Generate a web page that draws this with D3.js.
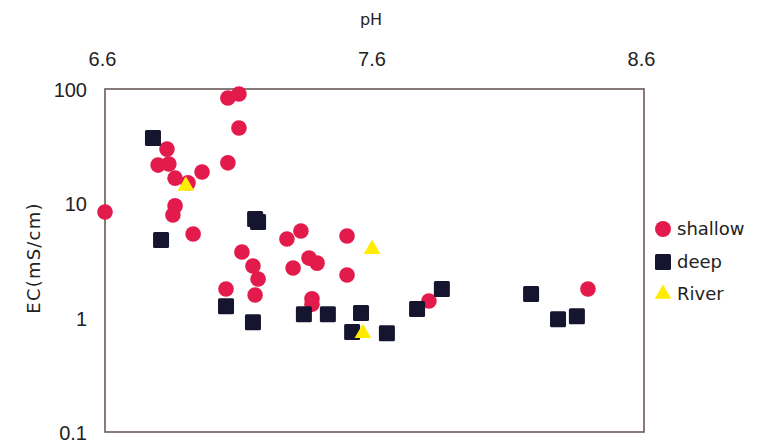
<!DOCTYPE html>
<html>
<head>
<meta charset="utf-8">
<script src="https://cdn.jsdelivr.net/npm/d3@7"></script>
<style>
  html, body { margin: 0; padding: 0; background: #fff; }
  svg { display: block; }
</style>
</head>
<body>
<svg id="chart" width="761" height="448"></svg>
<script>
// ---- data ----
const shallowPH = [6.60, 7.056, 7.097, 7.097, 6.83, 6.797, 6.837, 7.056, 6.96, 6.86, 6.908, 6.86, 6.852, 6.927, 7.108, 7.149, 7.168, 7.157, 7.049, 7.275, 7.327, 7.498, 7.298, 7.357, 7.387, 7.498, 7.368, 7.368, 7.802, 8.392];
const shallowEC = [8.4, 83.4, 90.4, 45.6, 29.8, 21.6, 22.1, 22.6, 18.8, 16.6, 15.1, 9.5, 7.9, 5.4, 3.75, 2.83, 2.18, 1.58, 1.78, 4.87, 5.72, 5.18, 2.72, 3.32, 3.0, 2.36, 1.46, 1.31, 1.40, 1.78];
const deepPH = [6.778, 7.157, 7.168, 6.808, 7.049, 7.149, 7.338, 7.427, 7.55, 7.517, 7.646, 7.758, 7.85, 8.181, 8.281, 8.351];
const deepEC = [37.3, 7.3, 6.86, 4.77, 1.26, 0.91, 1.07, 1.07, 1.10, 0.75, 0.73, 1.19, 1.78, 1.61, 0.97, 1.03];
const riverPH = [6.90, 7.591, 7.557];
const riverEC = [14.2, 3.98, 0.73];
const xTicks = [6.6, 7.6, 8.6];
const yTicks = [100, 10, 1, 0.1];
const yTickLabels = ["100", "10", "1", "0.1"];
const seriesNames = ["shallow", "deep", "River"];

// ---- layout ----
const svg = d3.select("#chart");
const L = 105, R = 644, T = 89, B = 432;
const x = d3.scaleLinear().domain([6.6, 8.6]).range([L, R]);
const y = d3.scaleLog().domain([0.1, 100]).range([B, T]);

const colRed = "#e31b4c", colDeep = "#161530", colRiver = "#ffec00";
const numFont = "'Liberation Sans', Arial, sans-serif";
const txtFont = "'DejaVu Sans', sans-serif";
const txtCol = "#222";

// plot border
svg.append("rect")
  .attr("x", L).attr("y", T).attr("width", R - L).attr("height", B - T)
  .attr("fill", "none").attr("stroke", "#6b5a58").attr("stroke-width", 1.6);

// top axis
const xAxis = d3.axisTop(x).tickValues(xTicks).tickFormat(d3.format(".1f")).tickSize(0);
const gx = svg.append("g").attr("transform", `translate(0,${T})`).call(xAxis);
gx.select(".domain").remove();
gx.selectAll("text")
  .attr("y", -23).attr("dx", -3)
  .attr("font-family", numFont).attr("font-size", 20).attr("fill", txtCol);

// left axis
const yAxis = d3.axisLeft(y).tickValues(yTicks).tickFormat((d, i) => yTickLabels[i]).tickSize(0);
const gy = svg.append("g").attr("transform", `translate(${L},0)`).call(yAxis);
gy.select(".domain").remove();
gy.selectAll("text")
  .attr("x", -18).attr("dy", "0.38em")
  .attr("font-family", numFont).attr("font-size", 20).attr("fill", txtCol);

// titles
svg.append("text").attr("x", 371).attr("y", 25).attr("text-anchor", "middle")
  .attr("font-family", txtFont).attr("font-size", 16).attr("fill", txtCol).text("pH");
svg.append("text").attr("transform", "translate(40,258) rotate(-90)").attr("text-anchor", "middle")
  .attr("font-family", txtFont).attr("font-size", 18).attr("letter-spacing", 1.2)
  .attr("fill", txtCol).text("EC(mS/cm)");

// markers
const sq = 16;
const tri = d3.symbol().type(d3.symbolTriangle).size(120);

svg.append("g").selectAll("circle").data(shallowPH.map((p, i) => [p, shallowEC[i]]))
  .join("circle").attr("cx", d => x(d[0])).attr("cy", d => y(d[1])).attr("r", 7.8)
  .attr("fill", colRed);

svg.append("g").selectAll("rect").data(deepPH.map((p, i) => [p, deepEC[i]]))
  .join("rect").attr("x", d => x(d[0]) - sq / 2).attr("y", d => y(d[1]) - sq / 2)
  .attr("width", sq).attr("height", sq).attr("rx", 1.5)
  .attr("fill", colDeep);

svg.append("g").selectAll("path").data(riverPH.map((p, i) => [p, riverEC[i]]))
  .join("path").attr("d", tri)
  .attr("transform", d => `translate(${x(d[0])},${y(d[1])})`)
  .attr("fill", colRiver);

// legend
const lg = svg.append("g");
const ly = [229, 262, 294];
lg.append("circle").attr("cx", 663).attr("cy", ly[0]).attr("r", 8).attr("fill", colRed);
lg.append("rect").attr("x", 663 - 8).attr("y", ly[1] - 8).attr("width", 16).attr("height", 16).attr("rx", 1.5).attr("fill", colDeep);
lg.append("path").attr("d", tri).attr("transform", `translate(663,${ly[2]})`).attr("fill", colRiver);
seriesNames.forEach((n, i) => {
  lg.append("text").attr("x", 677).attr("y", ly[i]).attr("dy", "0.36em")
    .attr("font-family", txtFont).attr("font-size", 18).attr("fill", txtCol).text(n);
});
</script>
</body>
</html>
